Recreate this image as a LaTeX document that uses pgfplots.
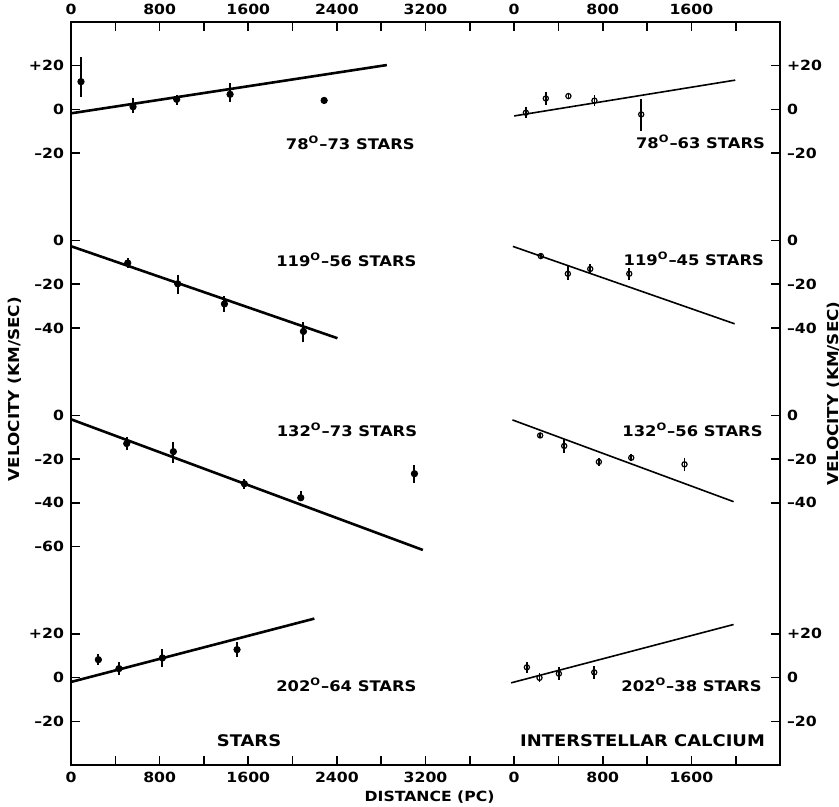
\documentclass[border=0pt]{standalone}
\usepackage{fontspec}
\setmainfont{DejaVu Sans}[FakeStretch=1.12]
\usepackage{pgfplots}
\pgfplotsset{compat=1.18}
\usetikzlibrary{calc}

\pgfplotsset{
  starpts/.style={only marks, black, mark=*, mark size=1.6pt,
    error bars/.cd, y dir=both, y explicit, error mark=none,
    error bar style={line width=1pt, black}},
  capts/.style={only marks, black, mark=o, mark size=1.3pt,
    mark options={line width=0.6pt, fill=white},
    error bars/.cd, y dir=both, y explicit, error mark=none,
    error bar style={line width=0.8pt, black}},
  starline/.style={black, line width=1.3pt, no marks},
  caline/.style={black, line width=0.8pt, no marks},
}
\newcommand{\glab}{\fontsize{7.3}{8}\selectfont}
\tikzset{grp/.style={anchor=east, inner sep=0pt, font=\glab}}

\begin{document}
\bfseries
\begin{tikzpicture}
\begin{axis}[
  name=main,
  scale only axis, width=354.5pt, height=371.5pt,
  xmin=0, xmax=6400, ymin=-300, ymax=40,
  clip=false,
  axis line style={line width=1pt},
  xtick={0,400,...,6000},
  xticklabels={0,,800,,1600,,2400,,3200,,0,,800,,1600,},
  xtick pos=bottom,
  ytick={20,0,-20,-60,-80,-100,-140,-160,-180,-200,-240,-260,-280},
  yticklabels={+20,0,–20,0,–20,–40,0,–20,–40,–60,+20,0,–20},
  ytick pos=left,
  tick align=inside,
  tick style={black, line width=0.8pt},
  major tick length=4.5pt,
  ticklabel style={font=\fontsize{7}{8}\selectfont},
]
% 78-73 stars / 78-63 calcium (offset 0)
\addplot[starpts] table[x=x, y=y, y error plus=ep, y error minus=em] {
x y ep em
90 12.7 11.2 7.1
560 1.2 4 3
954 4.6 2.2 2.5
1436 6.9 5 3.5
2285 4.1 1.5 1.5
};
\addplot[starline] coordinates {(0,-1.8) (2851,20.3)};
\addplot[capts] table[x=x, y=y, y error plus=ep, y error minus=em] {
x y ep em
4106 -1.5 2.5 2.5
4286 5.0 3 3
4490 6.1 1.5 1.5
4725 4.0 2.5 2.5
5147 -2.3 6.9 7.6
};
\addplot[caline] coordinates {(4000,-3.0) (5996,13.4)};

% 119-56 stars / 119-45 calcium (offset -60)
\addplot[starpts] table[x=x, y=y, y error plus=ep, y error minus=em] {
x y ep em
512 -70.3 2.3 2.3
963 -79.8 3.8 4.6
1385 -89.0 3.5 3.5
2098 -101.6 4.3 4.8
};
\addplot[starline] coordinates {(0,-62.6) (2405,-104.7)};
\addplot[capts] table[x=x, y=y, y error plus=ep, y error minus=em] {
x y ep em
4241 -67.1 1.5 1.5
4485 -75.2 3.9 2.7
4687 -73.0 2.3 2.3
5039 -75.2 2.7 2.7
};
\addplot[caline] coordinates {(3989,-62.7) (5990,-98.1)};

% 132-73 stars / 132-56 calcium (offset -140)
\addplot[starpts] table[x=x, y=y, y error plus=ep, y error minus=em] {
x y ep em
503 -152.9 3 3
924 -156.6 4.6 5
1565 -171.3 2.4 2.4
2074 -177.7 3 1.5
3100 -166.7 4.2 4.2
};
\addplot[starline] coordinates {(0,-141.8) (3176,-201.6)};
\addplot[capts] table[x=x, y=y, y error plus=ep, y error minus=em] {
x y ep em
4235 -149.2 1 1
4452 -154.0 3 3
4765 -161.3 2 2
5057 -159.4 1.5 1.5
5538 -162.4 3 3
};
\addplot[caline] coordinates {(3985,-142.1) (5981,-179.5)};

% 202-64 stars / 202-38 calcium (offset -260)
\addplot[starpts] table[x=x, y=y, y error plus=ep, y error minus=em] {
x y ep em
247 -251.8 2.5 2.5
433 -255.9 3 3
825 -251.0 4 4
1499 -247.2 3.5 3.5
};
\addplot[starline] coordinates {(0,-262.0) (2197,-233.0)};
\addplot[capts] table[x=x, y=y, y error plus=ep, y error minus=em] {
x y ep em
4115 -255.3 2.5 2.5
4229 -260.1 2 2
4404 -258.2 3 3
4723 -257.6 3 3
};
\addplot[caline] coordinates {(3973,-262.4) (5981,-235.7)};

% group labels
\node[grp] at (axis cs:3106,-15.3) {78\textsuperscript{O}–73 STARS};
\node[grp] at (axis cs:6267,-14.8) {78\textsuperscript{O}–63 STARS};
\node[grp] at (axis cs:3122,-68.8) {119\textsuperscript{O}–56 STARS};
\node[grp] at (axis cs:6258,-68.4) {119\textsuperscript{O}–45 STARS};
\node[grp] at (axis cs:3127,-146.4) {132\textsuperscript{O}–73 STARS};
\node[grp] at (axis cs:6246,-146.4) {132\textsuperscript{O}–56 STARS};
\node[grp] at (axis cs:3122,-263.5) {202\textsuperscript{O}–64 STARS};
\node[grp] at (axis cs:6237,-263.5) {202\textsuperscript{O}–38 STARS};
\node[inner sep=0pt, font=\fontsize{8}{9}\selectfont] at (axis cs:1607,-289) {STARS};
\node[anchor=east, inner sep=0pt, font=\fontsize{8}{9}\selectfont] at (axis cs:6267,-289) {INTERSTELLAR CALCIUM};

% axis titles
\node[rotate=90, font=\fontsize{7.5}{8}\selectfont] at (axis cs:-506,-128) {VELOCITY (KM/SEC)};
\node[rotate=90, font=\fontsize{7.5}{8}\selectfont] at (axis cs:6881,-130) {VELOCITY (KM/SEC)};
\node[font=\fontsize{7}{8}\selectfont] at (axis cs:3237,-314.7) {DISTANCE (PC)};
\end{axis}

\begin{axis}[
  scale only axis, width=354.5pt, height=371.5pt,
  xmin=0, xmax=6400, ymin=-300, ymax=40,
  axis x line*=top, axis y line*=right,
  axis line style={line width=1pt, -},
  xtick={0,400,...,6000},
  xticklabels={0,,800,,1600,,2400,,3200,,0,,800,,1600,},
  ytick={20,0,-20,-60,-80,-100,-140,-160,-180,-240,-260,-280},
  yticklabels={+20,0,–20,0,–20,–40,0,–20,–40,+20,0,–20},
  tick align=inside,
  tick style={black, line width=0.8pt},
  major tick length=4.5pt,
  ticklabel style={font=\fontsize{7}{8}\selectfont},
]
\end{axis}

\pgfresetboundingbox
\path ($(main.south west)+(-35.5pt,-20.5pt)$) rectangle ($(main.north east)+(29.5pt,11pt)$);
\end{tikzpicture}
\end{document}
